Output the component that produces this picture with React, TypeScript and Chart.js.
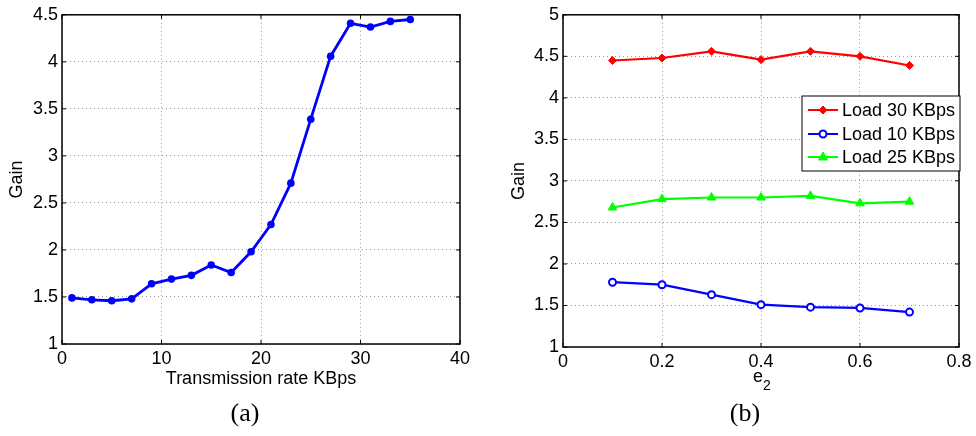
import React, { useEffect, useRef } from "react";
import { Chart, registerables } from "chart.js";

Chart.register(...registerables);

// ---- Data (a) ----
const rateKBps = [1, 3, 5, 7, 9, 11, 13, 15, 17, 19, 21, 23, 25, 27, 29, 31, 33, 35];
const gainA = [1.49, 1.47, 1.46, 1.48, 1.64, 1.69, 1.73, 1.84, 1.76, 1.98, 2.27, 2.71, 3.39, 4.06, 4.41, 4.37, 4.43, 4.45];
const xTicksA = [0, 10, 20, 30, 40];
const yTicksA = [1, 1.5, 2, 2.5, 3, 3.5, 4, 4.5];

// ---- Data (b) ----
const e2Values = [0.1, 0.2, 0.3, 0.4, 0.5, 0.6, 0.7];
const load30 = [4.45, 4.48, 4.56, 4.46, 4.56, 4.5, 4.39];
const load10 = [1.78, 1.75, 1.63, 1.51, 1.48, 1.47, 1.42];
const load25 = [2.68, 2.78, 2.8, 2.8, 2.82, 2.73, 2.75];
const seriesNamesB = ["Load 30 KBps", "Load 10 KBps", "Load 25 KBps"];
const xTicksB = [0, 0.2, 0.4, 0.6, 0.8];
const yTicksB = [1, 1.5, 2, 2.5, 3, 3.5, 4, 4.5, 5];

const FONT = '"Liberation Sans", Arial, Helvetica, sans-serif';
const SERIF = '"Liberation Serif", "DejaVu Serif", serif';
const W = 488;
const H = 436;

const fmt = (v: number) => String(Number(Number(v).toFixed(3)));

function framePlugin(opts: {
  xTitle: string;
  xSub?: string;
  caption: string;
  captionX: number;
  gainX: number;
  legend?: boolean;
}) {
  return {
    id: "framePlugin",
    afterDraw(chart: any) {
      const ctx = chart.ctx as CanvasRenderingContext2D;
      const a = chart.chartArea;
      const xs = chart.scales.x;
      const ys = chart.scales.y;
      ctx.save();
      // inward tick marks
      ctx.strokeStyle = "#000";
      ctx.lineWidth = 1;
      const tl = 4;
      xs.ticks.forEach((t: any) => {
        const px = xs.getPixelForValue(t.value);
        ctx.beginPath();
        ctx.moveTo(px, a.bottom);
        ctx.lineTo(px, a.bottom - tl);
        ctx.moveTo(px, a.top);
        ctx.lineTo(px, a.top + tl);
        ctx.stroke();
      });
      ys.ticks.forEach((t: any) => {
        const py = ys.getPixelForValue(t.value);
        ctx.beginPath();
        ctx.moveTo(a.left, py);
        ctx.lineTo(a.left + tl, py);
        ctx.moveTo(a.right, py);
        ctx.lineTo(a.right - tl, py);
        ctx.stroke();
      });
      // frame
      ctx.lineWidth = 1.5;
      ctx.strokeRect(a.left, a.top, a.right - a.left, a.bottom - a.top);

      // axis titles
      ctx.fillStyle = "#000";
      ctx.font = `18px ${FONT}`;
      ctx.textAlign = "center";
      ctx.textBaseline = "middle";
      const cx = (a.left + a.right) / 2;
      if (opts.xSub) {
        const w1 = ctx.measureText(opts.xTitle).width;
        ctx.textAlign = "left";
        ctx.fillText(opts.xTitle, cx - w1 / 2 - 3, 377);
        ctx.font = `14px ${FONT}`;
        ctx.fillText(opts.xSub, cx + w1 / 2 - 3, 386);
      } else {
        ctx.fillText(opts.xTitle, cx, 379);
      }
      ctx.font = `18px ${FONT}`;
      ctx.textAlign = "center";
      ctx.save();
      ctx.translate(opts.gainX, (a.top + a.bottom) / 2);
      ctx.rotate(-Math.PI / 2);
      ctx.fillText("Gain", 0, 0);
      ctx.restore();

      // caption
      ctx.font = `26px ${SERIF}`;
      ctx.textAlign = "center";
      ctx.fillText(opts.caption, opts.captionX, 414);

      // legend
      if (opts.legend) {
        const bx = 314, by = 96, bw = 158, bh = 75;
        ctx.fillStyle = "#fff";
        ctx.fillRect(bx, by, bw, bh);
        ctx.strokeStyle = "#000";
        ctx.lineWidth = 1;
        ctx.strokeRect(bx, by, bw, bh);
        const rows = [110, 134, 157];
        chart.data.datasets.forEach((ds: any, i: number) => {
          const y = rows[i];
          ctx.strokeStyle = ds.borderColor;
          ctx.lineWidth = 2;
          ctx.beginPath();
          ctx.moveTo(320, y);
          ctx.lineTo(350, y);
          ctx.stroke();
          // marker
          ctx.fillStyle = ds.pointBackgroundColor;
          ctx.strokeStyle = ds.pointBorderColor;
          ctx.lineWidth = ds.pointBorderWidth || 1;
          const r = ds.pointRadius;
          ctx.beginPath();
          if (ds.pointStyle === "rectRot") {
            ctx.moveTo(335, y - r);
            ctx.lineTo(335 + r, y);
            ctx.lineTo(335, y + r);
            ctx.lineTo(335 - r, y);
            ctx.closePath();
          } else if (ds.pointStyle === "triangle") {
            ctx.moveTo(335, y - r);
            ctx.lineTo(335 + r * 0.9, y + r * 0.6);
            ctx.lineTo(335 - r * 0.9, y + r * 0.6);
            ctx.closePath();
          } else {
            ctx.arc(335, y, r, 0, Math.PI * 2);
          }
          ctx.fill();
          ctx.stroke();
          ctx.fillStyle = "#000";
          ctx.font = `18px ${FONT}`;
          ctx.textAlign = "left";
          ctx.textBaseline = "middle";
          ctx.fillText(ds.label, 354, y + 1);
        });
      }
      ctx.restore();
    },
  };
}

function axisOpts(min: number, max: number, step: number, ticks: number[], fit: (s: any) => void, padding: number) {
  return {
    type: "linear" as const,
    min,
    max,
    afterBuildTicks: (scale: any) => {
      scale.ticks = ticks.map((v) => ({ value: v }));
    },
    afterFit: fit,
    ticks: {
      stepSize: step,
      color: "#000",
      font: { family: FONT, size: 18 },
      padding,
      callback: (v: any) => fmt(v),
      autoSkip: false,
      maxRotation: 0,
    },
    grid: {
      color: "#999999",
      lineWidth: 1,
      drawTicks: false,
      tickLength: 0,
    },
    border: { display: false, dash: [1, 3] },
  };
}

function ChartA() {
  const ref = useRef<HTMLCanvasElement>(null);
  useEffect(() => {
    const chart = new Chart(ref.current!, {
      type: "line",
      data: {
        datasets: [
          {
            label: "Gain",
            data: rateKBps.map((x, i) => ({ x, y: gainA[i] })),
            borderColor: "#0000ff",
            backgroundColor: "#0000ff",
            borderWidth: 2.8,
            pointRadius: 3.8,
            pointBackgroundColor: "#0000ff",
            pointBorderColor: "#0000ff",
            pointBorderWidth: 0,
            tension: 0,
            clip: false as any,
          },
        ],
      },
      options: {
        animation: false,
        responsive: false,
        devicePixelRatio: 1,
        layout: { padding: { left: 0, right: 28, top: 14, bottom: 0 } },
        plugins: { legend: { display: false }, tooltip: { enabled: false } },
        scales: {
          x: axisOpts(0, 40, 10, xTicksA, (s: any) => { s.height = H - 344; }, 4),
          y: axisOpts(1, 4.5, 0.5, yTicksA, (s: any) => { s.width = 62; }, 4),
        },
      },
      plugins: [framePlugin({ xTitle: "Transmission rate KBps", caption: "(a)", captionX: 245, gainX: 17 })],
    } as any);
    return () => chart.destroy();
  }, []);
  return <canvas ref={ref} width={W} height={H} style={{ position: "absolute", left: 0, top: 0, width: W, height: H }} />;
}

function ChartB() {
  const ref = useRef<HTMLCanvasElement>(null);
  useEffect(() => {
    const chart = new Chart(ref.current!, {
      type: "line",
      data: {
        datasets: [
          {
            label: seriesNamesB[0],
            data: e2Values.map((x, i) => ({ x, y: load30[i] })),
            borderColor: "#ff0000",
            borderWidth: 2.2,
            pointStyle: "rectRot",
            pointRadius: 4,
            pointBackgroundColor: "#ff0000",
            pointBorderColor: "#ff0000",
            pointBorderWidth: 1,
            tension: 0,
          },
          {
            label: seriesNamesB[1],
            data: e2Values.map((x, i) => ({ x, y: load10[i] })),
            borderColor: "#0000ff",
            borderWidth: 2.2,
            pointStyle: "circle",
            pointRadius: 3.5,
            pointBackgroundColor: "#ffffff",
            pointBorderColor: "#0000ff",
            pointBorderWidth: 2,
            tension: 0,
          },
          {
            label: seriesNamesB[2],
            data: e2Values.map((x, i) => ({ x, y: load25[i] })),
            borderColor: "#00ff00",
            borderWidth: 2.2,
            pointStyle: "triangle",
            pointRadius: 5,
            pointBackgroundColor: "#00ff00",
            pointBorderColor: "#00ff00",
            pointBorderWidth: 1,
            tension: 0,
          },
        ],
      },
      options: {
        animation: false,
        responsive: false,
        devicePixelRatio: 1,
        layout: { padding: { left: 0, right: 17, top: 13, bottom: 0 } },
        plugins: { legend: { display: false }, tooltip: { enabled: false } },
        scales: {
          x: axisOpts(0, 0.8, 0.2, xTicksB, (s: any) => { s.height = H - 347; }, 4),
          y: axisOpts(1, 5, 0.5, yTicksB, (s: any) => { s.width = 75; }, 4),
        },
      },
      plugins: [framePlugin({ xTitle: "e", xSub: "2", caption: "(b)", captionX: 257, gainX: 31, legend: true })],
    } as any);
    return () => chart.destroy();
  }, []);
  return <canvas ref={ref} width={W} height={H} style={{ position: "absolute", left: W, top: 0, width: W, height: H }} />;
}

export default function App() {
  return (
    <div style={{ position: "absolute", left: 0, top: 0, width: 976, height: 436, background: "#fff" }}>
      <ChartA />
      <ChartB />
    </div>
  );
}
